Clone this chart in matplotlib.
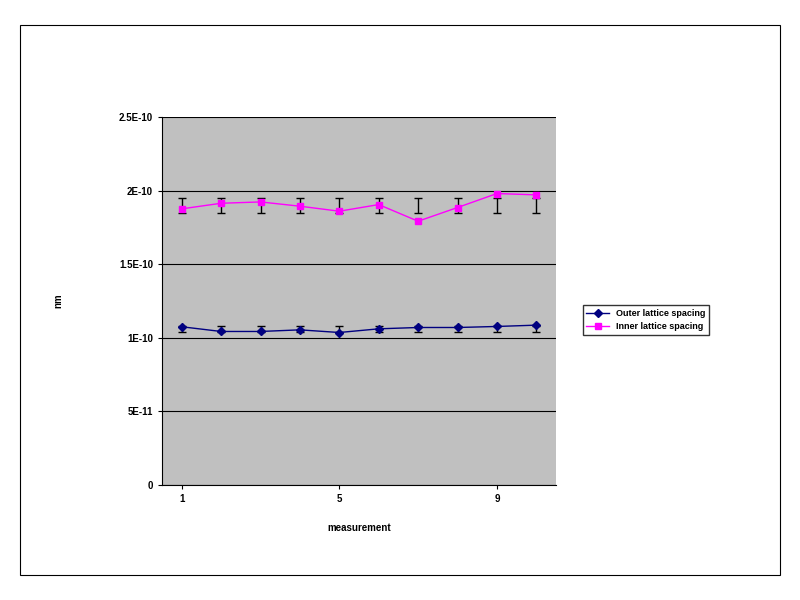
import matplotlib.pyplot as plt
import numpy as np

measurement = np.arange(1, 11)
outer = [1.075e-10, 1.043e-10, 1.043e-10, 1.054e-10, 1.036e-10, 1.061e-10, 1.070e-10, 1.070e-10, 1.077e-10, 1.086e-10]
outer_lo, outer_hi = 1.04e-10, 1.08e-10
inner = [1.876e-10, 1.914e-10, 1.923e-10, 1.894e-10, 1.860e-10, 1.905e-10, 1.792e-10, 1.885e-10, 1.980e-10, 1.971e-10]
inner_lo, inner_hi = 1.845e-10, 1.95e-10
yticks = [0, 5e-11, 1e-10, 1.5e-10, 2e-10, 2.5e-10]
ytick_labels = ['0', '5E-11', '1E-10', '1.5E-10', '2E-10', '2.5E-10']

plt.rcParams['font.family'] = ['Liberation Sans', 'DejaVu Sans']

fig = plt.figure(figsize=(8, 6), dpi=100)
fig.patches.append(plt.Rectangle((20 / 800, 25 / 600), 760 / 800, 550 / 600,
                                 transform=fig.transFigure, fill=False, ec='black', lw=0.8))
ax = fig.add_axes([162 / 800, 115 / 600, 394 / 800, 368 / 600])
ax.set_facecolor('#c0c0c0')

# error bars span a fixed range (not centred on the points)
for lo, hi in [(outer_lo, outer_hi), (inner_lo, inner_hi)]:
    mid = np.full(len(measurement), (lo + hi) / 2)
    ax.errorbar(measurement, mid, yerr=(hi - lo) / 2, fmt='none', ecolor='black',
                elinewidth=1, capsize=3, zorder=3)

ax.plot(measurement, outer, color='#000080', marker='D', ms=4, lw=1,
        label='Outer lattice spacing', zorder=4)
ax.plot(measurement, inner, color='#ff00ff', marker='s', ms=5, lw=1,
        label='Inner lattice spacing', zorder=4)

ax.set_xlim(0.5, 10.5)
ax.set_ylim(0, 2.5e-10)
ax.set_yticks(yticks)
ax.set_yticklabels(ytick_labels, fontsize=7, fontweight='bold')
ax.set_xticks([1, 5, 9])
ax.set_xticklabels(['1', '5', '9'], fontsize=7, fontweight='bold')
ax.grid(axis='y', color='black', lw=0.8)
ax.set_axisbelow(True)
for s in ['top', 'right']:
    ax.spines[s].set_visible(False)
ax.tick_params(axis='both', length=3, direction='out')
ax.set_xlabel('measurement', fontsize=7, fontweight='bold', labelpad=14)
ax.set_ylabel('nm', fontsize=7, fontweight='bold', labelpad=40)

leg = fig.legend(loc='center', bbox_to_anchor=(646 / 800, 1 - 320 / 600), fontsize=6.5,
                 frameon=True, fancybox=False, edgecolor='black', handlelength=2.5)
for t in leg.get_texts():
    t.set_fontweight('bold')

fig.savefig('out.png', dpi=100)
